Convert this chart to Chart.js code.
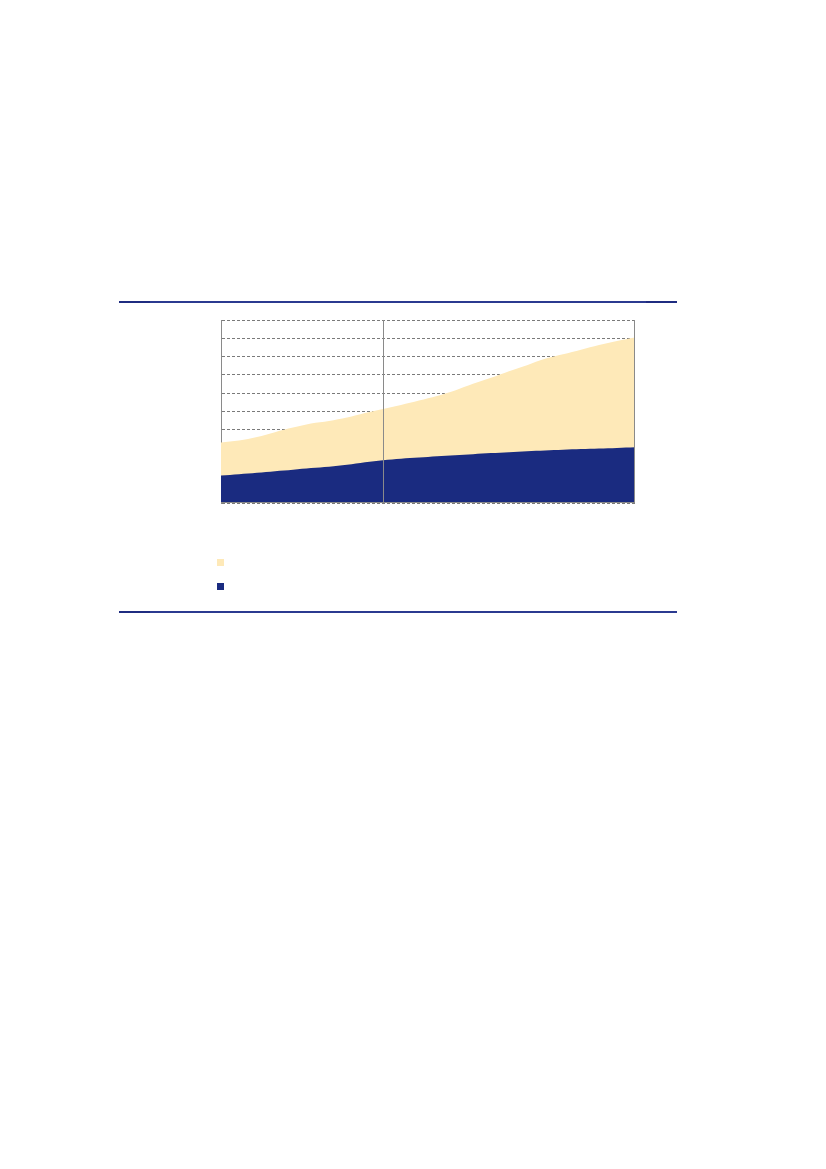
<!DOCTYPE html>
<html>
<head>
<meta charset="utf-8">
<script src="https://cdn.jsdelivr.net/npm/chart.js@4/dist/chart.umd.min.js"></script>
<style>
    body { margin: 0; background: #fff; font-family: "Liberation Sans", Arial, sans-serif; }
    #pagina { position: relative; width: 826px; height: 1169px; }
    .regla { position: absolute; left: 119px; width: 558px; height: 2px; background: #2b3a90; }
    .regla .punta { position: absolute; top: 0; width: 31px; height: 2px; background: #1f2c80; }
    #caja-grafica { position: absolute; left: 220px; top: 319px; width: 416px; height: 185px; }
    .cuadro { position: absolute; left: 217px; width: 7px; height: 7px; }
</style>
</head>
<body>
<div id="pagina">
    <div class="regla" style="top:301px;"><div class="punta" style="left:0"></div><div class="punta" style="right:0"></div></div>
    <div id="caja-grafica"><canvas id="grafica"></canvas></div>
    <div class="cuadro" style="top:559px; background:#fee9b8;"></div>
    <div class="cuadro" style="top:583px; background:#1a2b80;"></div>
    <div class="regla" style="top:611px;"><div class="punta" style="left:0"></div></div>
</div>

<script>
// ── Datos ─────────────────────────────────────────────────────
const periodos      = Array.from({ length: 24 }, (_, i) => String(i + 1));
const indiceCorte   = 9;   // línea vertical que separa los dos tramos
const valoresTotal  = [33.0, 34.1, 36.0, 38.7, 41.2, 43.4, 44.8, 46.7, 49.2, 51.4, 53.6, 56.0,
                       58.5, 61.5, 65.1, 68.4, 72.0, 75.3, 78.8, 81.3, 83.8, 86.3, 88.5, 90.4];
const valoresBase   = [15.0, 15.7, 16.5, 17.4, 18.2, 19.1, 19.8, 20.9, 22.3, 23.4, 24.2, 24.8,
                       25.5, 26.1, 26.7, 27.3, 27.8, 28.3, 28.7, 29.1, 29.5, 29.8, 30.1, 30.4];
const marcasEje     = [0, 10, 20, 30, 40, 50, 60, 70, 80, 90, 100];

const colorClaro  = '#fee9b8';
const colorOscuro = '#1a2b80';
const colorMarco  = '#8a8a8a';

// ── Línea de corte y marco del área ───────────────────────────
const marcoPlugin = {
    id: 'marco',
    afterDatasetsDraw(chart) {
        const { ctx, chartArea, scales } = chart;
        const x = Math.round(scales.x.getPixelForValue(indiceCorte)) + 0.5;
        ctx.save();
        ctx.strokeStyle = colorMarco;
        ctx.lineWidth = 1;
        ctx.beginPath();
        ctx.moveTo(x, chartArea.top);
        ctx.lineTo(x, chartArea.bottom);
        ctx.moveTo(chartArea.right - 0.5, chartArea.top);
        ctx.lineTo(chartArea.right - 0.5, chartArea.bottom);
        ctx.moveTo(chartArea.left, chartArea.bottom - 0.5);
        ctx.lineTo(chartArea.right, chartArea.bottom - 0.5);
        ctx.stroke();
        ctx.restore();
    }
};

new Chart(document.getElementById('grafica'), {
    type: 'line',
    data: {
        labels: periodos,
        datasets: [
            { data: valoresBase,  backgroundColor: colorOscuro, fill: 'origin', order: 1 },
            { data: valoresTotal, backgroundColor: colorClaro,  fill: 'origin', order: 2 }
        ]
    },
    options: {
        responsive: true,
        maintainAspectRatio: false,
        animation: false,
        layout: { padding: 1 },
        elements: {
            line: { borderWidth: 0, tension: 0.35 },
            point: { radius: 0 }
        },
        plugins: { legend: { display: false }, tooltip: { enabled: false } },
        scales: {
            x: {
                display: false,
                offset: false
            },
            y: {
                min: 0,
                max: 100,
                afterBuildTicks: axis => { axis.ticks = marcasEje.map(v => ({ value: v })); },
                ticks: { display: false },
                grid: { color: '#7a7a7a', lineWidth: 1, drawTicks: false },
                border: { display: true, color: colorMarco, width: 1, dash: [3, 2] }
            }
        }
    },
    plugins: [marcoPlugin]
});
</script>
</body>
</html>
